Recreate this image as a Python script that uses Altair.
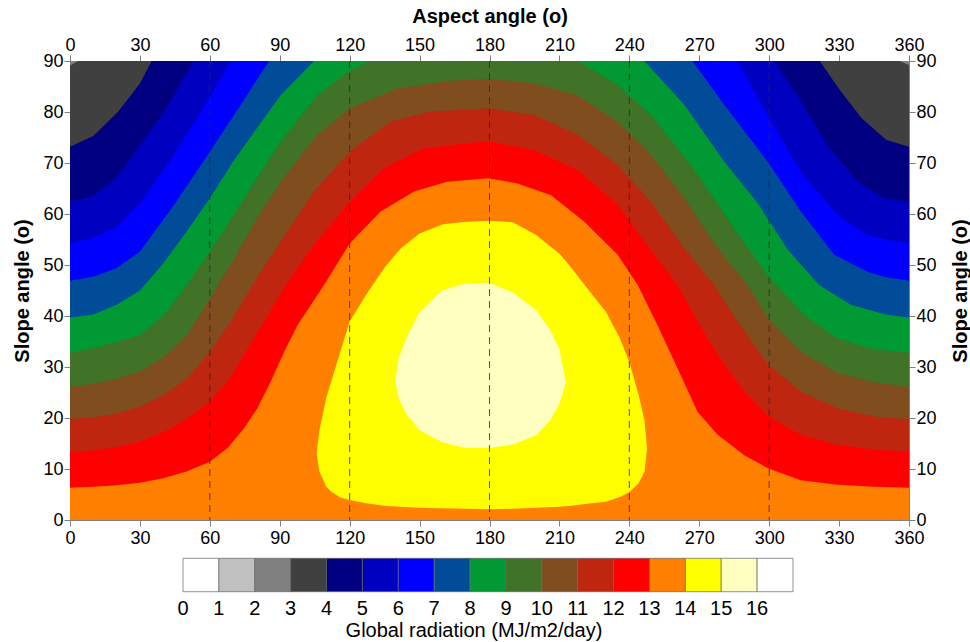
import altair as alt
import pandas as pd

# ---------------- data ----------------
ASPECT_TICKS = list(range(0, 361, 30))
SLOPE_TICKS = list(range(0, 91, 10))
GUIDE_ASPECTS = [60, 120, 180, 240, 300]

LEGEND_LEVELS = list(range(17))          # band lower limits 0..16 (MJ/m2/day)
BAND_COLORS = ["#ffffff", "#c0c0c0", "#808080", "#404040", "#000080", "#0000c0",
               "#0000ff", "#004c99", "#009933", "#407328", "#7f4d1e", "#bf2610",
               "#ff0000", "#ff8000", "#ffff00", "#ffffc0", "#ffffff"]
LEGEND_TITLE = "Global radiation (MJ/m2/day)"

# contour boundaries: slope angle of isoline "level" as a function of aspect
B13_X = [0, 10, 20, 30, 40, 50, 60, 67.6, 74.7, 80.4, 86.1, 91.9, 97.6, 104, 109, 120, 133.3,
         147.6, 161.9, 179.4, 192, 206.4, 220.7, 235, 243.6, 252.1, 260.7, 269.3, 277.9, 289.3,
         299.7, 313.6, 329.3, 345, 360]
B13_Y = [6.3, 6.5, 6.8, 7.3, 8.2, 9.5, 11.4, 14.1, 18.0, 21.9, 27.1, 33.0, 38.2, 42.6, 46.1, 54.2,
         60.5, 64.4, 66.3, 67.0, 66.0, 63.7, 58.5, 52.0, 46.1, 38.2, 29.7, 21.2, 16.7, 12.7,
         10.1, 7.8, 6.9, 6.5, 6.3]

B12_X = [0, 10, 20, 30, 40.4, 50.4, 60, 67.6, 74.7, 83.3, 92.6, 104.7, 120, 134.7, 151.9, 179.4,
         199.3, 217.9, 235, 246.4, 260.7, 269.3, 277.9, 289.3, 299.7, 313.6, 329.3, 345, 360]
B12_Y = [13.4, 13.6, 14.3, 15.4, 17.3, 19.9, 23.2, 27.1, 32.4, 38.9, 46.1, 53.9, 62.4, 69.0, 72.9,
         74.3, 72.5, 68.6, 61.8, 54.6, 46.1, 38.9, 32.4, 25.2, 20.3, 16.7, 14.7, 13.8, 13.4]

B11_X = [0, 10, 20, 30, 40.4, 50.4, 60, 69, 78.3, 90.4, 104.7, 120, 137.6, 154.7, 179.4, 199.3,
         217.9, 235, 249.3, 263.6, 276.4, 286.4, 299.7, 313.6, 329.3, 345, 360]
B11_Y = [19.8, 20.1, 20.9, 22.2, 24.5, 27.8, 33.0, 38.9, 46.1, 54.6, 64.4, 72.2, 78.1, 80.1, 80.7,
         79.4, 75.5, 69.6, 62.4, 53.3, 46.1, 38.9, 30.4, 25.2, 21.9, 20.3, 19.7]

B10_X = [0, 10, 20, 30, 40.4, 50.4, 60, 70, 80, 90.4, 106.1, 120, 140.4, 161.9, 179.4, 199.3,
         217.9, 235, 249.3, 263.6, 277.9, 290.7, 299.7, 313.6, 329.3, 345, 360]
B10_Y = [26.1, 26.7, 27.7, 29.1, 32.0, 36.3, 43.5, 51.0, 59.0, 66.3, 75.5, 80.7, 84.6, 86.1, 86.5,
         85.6, 83.3, 78.1, 71.6, 63.1, 53.3, 46.1, 39.5, 33.0, 28.8, 27.0, 26.1]

B9_X = [0, 10, 20, 30, 40.4, 46.9, 60, 74.7, 90.4, 106.1, 118, 128.3, 217.9, 235, 249.3, 266.4,
        285, 299.3, 315, 329.3, 345, 360]
B9_Y = [32.8, 33.7, 34.9, 36.3, 40.2, 44.1, 52.6, 63.1, 74.2, 83.3, 87.5, 90, 90, 85.3, 79.4,
        69.6, 57.2, 48.0, 40.2, 35.6, 33.5, 32.8]

B8_X = [0, 10, 20, 30, 40, 50, 60, 70, 80, 90.4, 104.7, 246.4, 263.6, 280.7, 295.3, 308, 321.4,
        335, 350, 360]
B8_Y = [39.7, 40.3, 42.2, 45.0, 50.3, 56.5, 63.1, 70.3, 76.7, 83.3, 90, 90, 81.4, 70.3, 62.0,
        53.0, 46.1, 42.2, 40.3, 39.7]

B7_X = [0, 10, 19.7, 30, 44.7, 60, 73.3, 85.4, 267.1, 280.7, 299.3, 313.6, 327.9, 342.1, 350, 360]
B7_Y = [46.9, 47.7, 49.3, 52.6, 61.8, 72.2, 81.4, 90, 90, 81.4, 70.3, 60.5, 52.0, 48.7, 47.6, 46.9]

B6_X = [0, 10, 19.7, 30, 44.7, 60, 69, 286.4, 299.3, 313.6, 329.3, 342.1, 350, 360]
B6_Y = [54.2, 55.4, 57.3, 62.1, 71.6, 83.0, 90, 90, 79.4, 68.3, 59.8, 55.9, 55.0, 54.2]

B5_X = [0, 10, 19.7, 30, 40.4, 53, 302.1, 312.1, 325, 337.9, 349.3, 360]
B5_Y = [62.4, 63.6, 67.0, 73.5, 80.1, 90, 90, 83.3, 73.5, 66.3, 63.1, 62.4]

B4_X = [0, 10, 20.7, 30, 35, 321.7, 330, 339.6, 350.3, 360]
B4_Y = [73.2, 75.3, 80.1, 85.6, 90, 90, 84.5, 78.8, 74.5, 73.2]

B3_X = [0, 3.5, 356, 360]
B3_Y = [89.1, 90, 90, 89.2]

# closed regions (14-15 and 15-16): lower and upper edge
YEL_X = [105.8, 107, 110, 112, 116, 120, 127, 135, 142, 150, 160, 170, 180, 190, 200, 210,
         215, 222, 230, 236, 240, 244, 246.5, 247.6]
YEL_LO = [13.0, 9.5, 6.5, 5.6, 4.4, 3.9, 3.3, 2.8, 2.6, 2.4, 2.3, 2.2, 2.1, 2.2, 2.4, 2.6,
          2.8, 3.2, 3.6, 4.5, 5.5, 7.2, 9.5, 14.0]
YEL_HI = [13.0, 17.5, 24.0, 27.0, 33.0, 38.9, 44.1, 49.5, 53.3, 56.2, 58.0, 58.5, 58.7, 58.4,
          55.9, 52.2, 49.5, 45.4, 40.8, 35.6, 31.0, 24.5, 19.5, 14.0]

LY_X = [139.5, 141, 144.2, 150, 160, 170, 180, 190, 200, 206, 210, 212.8]
LY_LO = [27.3, 23.9, 20.9, 17.6, 15.2, 14.1, 14.1, 14.8, 16.6, 19.5, 22.8, 27.0]
LY_HI = [27.3, 31.7, 35.6, 40.8, 45.1, 46.4, 46.5, 44.6, 41.2, 37.3, 33.5, 27.0]

# ---------------- chart ----------------
W, H = 839, 459
FONT = "Liberation Sans"
X_SCALE = alt.Scale(domain=[0, 360], nice=False, zero=False)
Y_SCALE = alt.Scale(domain=[0, 90], nice=False, zero=False)
LEG_SCALE = alt.Scale(domain=[0, 17], range=[113, 723], nice=False, zero=False)

bottom_axis = alt.Axis(orient="bottom", values=ASPECT_TICKS, title="", labelFlush=False,
                       tickSize=6, labelPadding=3)
top_axis = alt.Axis(orient="top", values=ASPECT_TICKS, title="Aspect angle (o)",
                    labelFlush=False, tickSize=6, labelPadding=1,
                    titleX=W / 2, titleY=-38.5, titleAngle=0, titleAlign="center",
                    titleBaseline="alphabetic")
left_axis = alt.Axis(orient="left", values=SLOPE_TICKS, title="Slope angle (o)",
                     labelFlush=False, tickSize=6, labelPadding=1,
                     titleX=-42, titleY=H / 2, titleAngle=270, titleAlign="center",
                     titleBaseline="alphabetic")
right_axis = alt.Axis(orient="right", values=SLOPE_TICKS, title="Slope angle (o)",
                      labelFlush=False, tickSize=6, labelPadding=1,
                      titleX=57, titleY=H / 2, titleAngle=270, titleAlign="center",
                      titleBaseline="alphabetic")


def band_layer(xs, ys, color, xaxis=None, yaxis=None):
    df = pd.DataFrame({"aspect": xs, "slope": ys})
    return alt.Chart(df).mark_area(color=color, interpolate="linear", orient="vertical").encode(
        x=alt.X("aspect:Q", scale=X_SCALE, axis=xaxis),
        y=alt.Y("slope:Q", scale=Y_SCALE, axis=yaxis),
        y2=alt.Y2Datum(90),
    )


def closed_layer(xs, lo, hi, color):
    df = pd.DataFrame({"aspect": xs, "lo": lo, "hi": hi})
    return alt.Chart(df).mark_area(color=color, interpolate="linear", orient="vertical").encode(
        x=alt.X("aspect:Q", scale=X_SCALE, axis=None),
        y=alt.Y("lo:Q", scale=Y_SCALE, axis=None),
        y2="hi:Q",
    )


layers = [
    band_layer([0, 360], [0, 0], BAND_COLORS[13], bottom_axis, left_axis),
    band_layer(B13_X, B13_Y, BAND_COLORS[12], top_axis, right_axis),
    band_layer(B12_X, B12_Y, BAND_COLORS[11]),
    band_layer(B11_X, B11_Y, BAND_COLORS[10]),
    band_layer(B10_X, B10_Y, BAND_COLORS[9]),
    band_layer(B9_X, B9_Y, BAND_COLORS[8]),
    band_layer(B8_X, B8_Y, BAND_COLORS[7]),
    band_layer(B7_X, B7_Y, BAND_COLORS[6]),
    band_layer(B6_X, B6_Y, BAND_COLORS[5]),
    band_layer(B5_X, B5_Y, BAND_COLORS[4]),
    band_layer(B4_X, B4_Y, BAND_COLORS[3]),
    band_layer(B3_X, B3_Y, BAND_COLORS[2]),
    closed_layer(YEL_X, YEL_LO, YEL_HI, BAND_COLORS[14]),
    closed_layer(LY_X, LY_LO, LY_HI, BAND_COLORS[15]),
]

rules = alt.Chart(pd.DataFrame({"aspect": GUIDE_ASPECTS})).mark_rule(
    color="#2a2a2a", strokeWidth=1, strokeDash=[7, 5], opacity=0.8
).encode(x=alt.X("aspect:Q", scale=X_SCALE, axis=None))

leg_df = pd.DataFrame({
    "lo": LEGEND_LEVELS,
    "hi": [v + 1 for v in LEGEND_LEVELS],
    "color": BAND_COLORS,
})
legend_boxes = alt.Chart(leg_df).mark_rect(stroke="#666666", strokeWidth=0.7).encode(
    x=alt.X("lo:Q", scale=LEG_SCALE, axis=None),
    x2="hi:Q",
    y=alt.value(497.3),
    y2=alt.value(530.7),
    color=alt.Color("color:N", scale=None),
)
legend_labels = alt.Chart(leg_df).mark_text(
    font=FONT, fontSize=20, baseline="alphabetic", align="center", color="black"
).encode(
    x=alt.X("lo:Q", scale=LEG_SCALE, axis=None),
    y=alt.value(554),
    text=alt.Text("lo:Q", format="d"),
)
legend_title = alt.Chart(pd.DataFrame({"t": [LEGEND_TITLE]})).mark_text(
    font=FONT, fontSize=20, baseline="alphabetic", align="center", color="black"
).encode(x=alt.value(404), y=alt.value(575.7), text="t:N")

chart = alt.layer(*layers, rules, legend_boxes, legend_labels, legend_title).resolve_scale(
    x="independent", y="independent"
).properties(
    width=W, height=H,
    padding={"left": 70, "top": 61, "right": 61, "bottom": 122},
    autosize=alt.AutoSizeParams(type="none"),
    background="white",
).configure_view(stroke=None).configure_axis(
    labelFont=FONT, labelFontSize=18, labelColor="black",
    titleFont=FONT, titleFontSize=20, titleFontWeight="bold", titleColor="black",
    domainColor="#808080", tickColor="#808080", domainWidth=1, tickWidth=1,
    grid=False, labelOverlap=False,
)

chart.save("out.html", embed_options={"renderer": "svg", "actions": False})
